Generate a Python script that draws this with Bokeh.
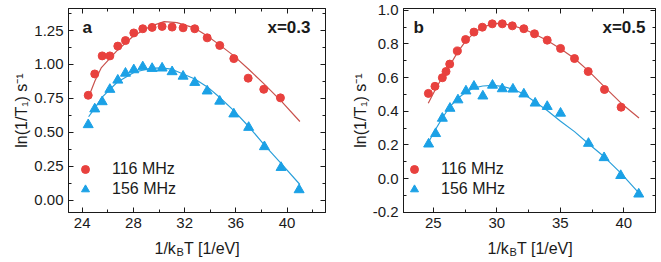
from bokeh.plotting import figure
from bokeh.layouts import row, column
from bokeh.models import (Range1d, LinearAxis, SingleIntervalTicker, Label,
                          CustomJSTickFormatter, PrintfTickFormatter, Legend, LegendItem)
from bokeh.embed import file_html
from bokeh.resources import INLINE

# ---------------- data ----------------
# Panel a, x = 0.3
xa_116 = [24.47, 24.98, 25.56, 26.16, 26.78, 27.38, 28.03, 28.73, 29.46, 30.24,
          31.02, 31.88, 32.79, 33.76, 34.74, 35.84, 36.96, 38.18, 39.48]
ya_116 = [0.773, 0.93, 1.063, 1.063, 1.135, 1.176, 1.232, 1.263, 1.273, 1.28,
          1.275, 1.27, 1.263, 1.196, 1.14, 1.043, 0.899, 0.817, 0.754]
xa_156 = [24.47, 24.98, 25.56, 26.16, 26.78, 27.38, 28.03, 28.73, 29.46, 30.24,
          31.02, 31.88, 32.79, 33.76, 34.74, 35.84, 37.0, 38.23, 39.53, 40.94]
ya_156 = [0.556, 0.672, 0.725, 0.816, 0.884, 0.935, 0.96, 0.982, 0.97, 0.973,
          0.946, 0.913, 0.867, 0.804, 0.729, 0.635, 0.536, 0.394, 0.241, 0.077]
fa_116_x = [24.5, 25.0, 25.5, 26.7, 28.0, 29.3, 30.4, 31.4, 32.8, 33.8, 34.7,
            35.8, 37.0, 38.2, 39.6, 41.0]
fa_116_y = [0.76, 0.88, 0.977, 1.10, 1.21, 1.28, 1.315, 1.308, 1.267, 1.207,
            1.146, 1.067, 0.965, 0.857, 0.724, 0.58]
fa_156_x = [24.5, 25.0, 25.56, 26.73, 28.03, 29.3, 30.1, 31.0, 32.8, 33.8, 34.7,
            35.8, 37.0, 38.2, 39.6, 41.0]
fa_156_y = [0.615, 0.68, 0.76, 0.869, 0.941, 0.972, 0.975, 0.965, 0.893, 0.833,
            0.76, 0.664, 0.543, 0.41, 0.265, 0.116]

# Panel b, x = 0.5
xb_116 = [24.61, 25.13, 25.71, 26.0, 26.29, 26.89, 27.54, 28.2, 28.86, 29.64,
          30.43, 31.22, 32.13, 32.97, 33.97, 35.02, 36.12, 37.2, 38.48, 39.79]
yb_116 = [0.506, 0.548, 0.599, 0.636, 0.68, 0.758, 0.826, 0.87, 0.899, 0.919,
          0.919, 0.907, 0.89, 0.86, 0.822, 0.773, 0.713, 0.636, 0.529, 0.424]
xb_156 = [24.63, 25.18, 25.71, 26.31, 26.94, 27.57, 28.2, 28.9, 29.66, 30.43,
          31.27, 32.13, 33.02, 33.97, 35.02, 37.22, 38.45, 39.76, 41.18]
yb_156 = [0.205, 0.267, 0.358, 0.417, 0.467, 0.52, 0.548, 0.49, 0.554, 0.533,
          0.531, 0.502, 0.448, 0.428, 0.388, 0.209, 0.124, 0.018, -0.092]
fb_116_x = [24.6, 25.13, 25.71, 26.29, 26.89, 27.54, 28.2, 28.86, 29.64, 30.0,
            30.43, 31.22, 32.13, 32.97, 33.97, 35.02, 36.12, 37.2, 38.48, 39.79, 41.2]
fb_116_y = [0.448, 0.525, 0.603, 0.67, 0.748, 0.816, 0.864, 0.899, 0.917, 0.922,
            0.92, 0.909, 0.888, 0.859, 0.82, 0.771, 0.713, 0.641, 0.545, 0.448, 0.36]
fb_156_x = [24.61, 25.18, 25.71, 26.31, 26.94, 27.54, 28.2, 28.9, 29.69, 30.43,
            31.27, 32.13, 32.99, 33.97, 35.02, 36.12, 37.2, 38.48, 39.79, 41.18]
fb_156_y = [0.215, 0.293, 0.36, 0.428, 0.477, 0.512, 0.539, 0.55, 0.554, 0.548,
            0.531, 0.502, 0.457, 0.405, 0.341, 0.279, 0.209, 0.128, 0.031, -0.085]

legend_labels = ["116 MHz", "156 MHz"]
panel_letters = ["a", "b"]
panel_titles = ["x=0.3", "x=0.5"]
y_label = "ln(1/T\u2081) s\u207b\u00b9"
x_label_parts = ["1/k", "B", "T [1/eV]"]

# ---------------- styling ----------------
FONT = "Liberation Sans"
TXT = "#1a1a1a"
RED_PT = "#e8413e"
BLUE_PT = "#1ba1e6"
RED_LN = "#c9524d"
BLUE_LN = "#2a9fda"
W = 330
MAIN_H = 234
BOTTOM = 22
STRIP_H = 26


def style_axis(ax, ticker, fmt=None):
    ax.ticker = ticker
    ax.major_tick_in = 5
    ax.major_tick_out = 0
    ax.minor_tick_in = 3
    ax.minor_tick_out = 0
    ax.axis_line_color = TXT
    ax.major_tick_line_color = TXT
    ax.minor_tick_line_color = TXT
    if fmt is not None:
        ax.formatter = PrintfTickFormatter(format=fmt)
        ax.major_label_text_font = FONT
        ax.major_label_text_font_size = "15px"
        ax.major_label_text_color = TXT
        ax.major_label_standoff = 5
    else:
        ax.formatter = CustomJSTickFormatter(code="return ''")
        ax.major_label_text_font_size = "0px"
        ax.major_label_standoff = 0


def make_panel(border_left, top_border, xr, yr, xint, yint, yfmt,
               x1, y1, x2, y2, fx1, fy1, fx2, fy2,
               letter, title, leg_x, letter_x, title_dx, text_dy):
    frame_h = MAIN_H - top_border - BOTTOM
    p = figure(width=W, height=MAIN_H,
               x_range=Range1d(*xr), y_range=Range1d(*yr),
               output_backend="svg", toolbar_location=None,
               min_border_left=border_left, min_border_right=5,
               min_border_top=top_border, min_border_bottom=BOTTOM,
               background_fill_color="white", border_fill_color="white",
               outline_line_color=TXT)
    p.xgrid.visible = False
    p.ygrid.visible = False

    style_axis(p.xaxis[0], SingleIntervalTicker(interval=xint, num_minor_ticks=2), "%d")
    style_axis(p.yaxis[0], SingleIntervalTicker(interval=yint, num_minor_ticks=2), yfmt)
    p.yaxis[0].axis_label = y_label
    p.yaxis[0].axis_label_text_font = FONT
    p.yaxis[0].axis_label_text_font_size = "16px"
    p.yaxis[0].axis_label_text_font_style = "normal"
    p.yaxis[0].axis_label_text_color = TXT
    p.yaxis[0].axis_label_standoff = 1

    top = LinearAxis()
    style_axis(top, SingleIntervalTicker(interval=xint, num_minor_ticks=2))
    right = LinearAxis()
    style_axis(right, SingleIntervalTicker(interval=yint, num_minor_ticks=2))
    p.add_layout(top, "above")
    p.add_layout(right, "right")

    p.line(fx1, fy1, line_color=RED_LN, line_width=1.2)
    p.line(fx2, fy2, line_color=BLUE_LN, line_width=1.2)
    r1 = p.scatter(x1, y1, marker="circle", size=8, fill_color=RED_PT, line_color=RED_PT)
    r2 = p.scatter(x2, y2, marker="triangle", size=10, fill_color=BLUE_PT, line_color=BLUE_PT)

    leg = Legend(items=[LegendItem(label=legend_labels[0], renderers=[r1]),
                        LegendItem(label=legend_labels[1], renderers=[r2])],
                 location=(leg_x, 13), padding=0, margin=0, spacing=0,
                 label_height=20, glyph_height=20, glyph_width=20, label_standoff=17,
                 border_line_color=None, background_fill_alpha=0,
                 label_text_font=FONT, label_text_font_size="16px",
                 label_text_color=TXT)
    p.add_layout(leg)

    frame_w = W - border_left - 5
    p.add_layout(Label(x=letter_x, y=frame_h - text_dy, x_units="screen", y_units="screen",
                       text=letter, text_font=FONT, text_font_size="17px",
                       text_font_style="bold", text_color=TXT,
                       text_baseline="middle", text_align="left"))
    p.add_layout(Label(x=frame_w - title_dx, y=frame_h - text_dy, x_units="screen",
                       y_units="screen", text=title, text_font=FONT, text_font_size="17px",
                       text_font_style="bold", text_color=TXT,
                       text_baseline="middle", text_align="right"))
    return p


def make_xlabel_strip(x0):
    s = figure(width=W, height=STRIP_H, output_backend="svg", toolbar_location=None,
               x_axis_location=None, y_axis_location=None,
               min_border_left=0, min_border_right=0, min_border_top=0, min_border_bottom=0,
               outline_line_color=None, background_fill_color="white",
               border_fill_color="white")
    s.xgrid.visible = False
    s.ygrid.visible = False
    base = 12
    s.add_layout(Label(x=x0, y=base, x_units="screen", y_units="screen",
                       text=x_label_parts[0], text_font=FONT, text_font_size="16px",
                       text_color=TXT, text_baseline="alphabetic", text_align="left"))
    s.add_layout(Label(x=x0 + 22.0, y=base - 3.5, x_units="screen", y_units="screen",
                       text=x_label_parts[1], text_font=FONT, text_font_size="11px",
                       text_color=TXT, text_baseline="alphabetic", text_align="left"))
    s.add_layout(Label(x=x0 + 29.5, y=base, x_units="screen", y_units="screen",
                       text=x_label_parts[2], text_font=FONT, text_font_size="16px",
                       text_color=TXT, text_baseline="alphabetic", text_align="left"))
    return s


pa = make_panel(68, 5, (22.93, 43.0), (-0.09, 1.412), 4, 0.25, "%.2f",
                xa_116, ya_116, xa_156, ya_156, fa_116_x, fa_116_y, fa_156_x, fa_156_y,
                panel_letters[0], panel_titles[0], 7, 14, 15, 22)
pb = make_panel(73, 8, (22.65, 42.5), (-0.201, 1.01), 5, 0.2, "%.1f",
                xb_116, yb_116, xb_156, yb_156, fb_116_x, fb_116_y, fb_156_x, fb_156_y,
                panel_letters[1], panel_titles[1], 1, 10, 10, 19)
sa = make_xlabel_strip(154)
sb = make_xlabel_strip(157)

layout = column(row(pa, pb), row(sa, sb))
open("out.html", "w").write(file_html(layout, INLINE))
